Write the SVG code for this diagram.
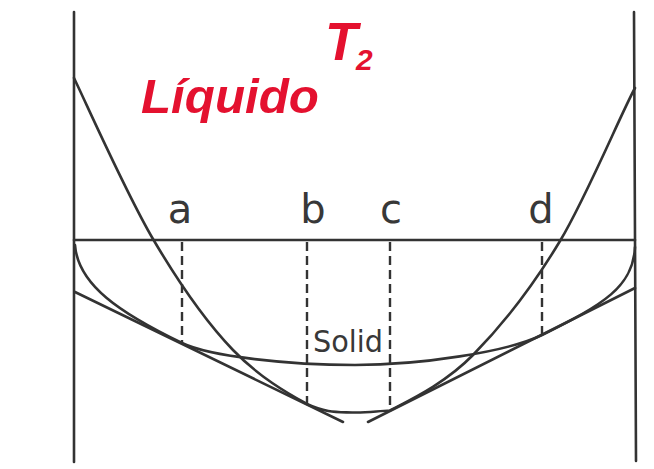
<svg xmlns="http://www.w3.org/2000/svg" width="654" height="469" viewBox="0 0 654 469">
<style>
.ln{fill:none;stroke:#333;stroke-width:2.6;stroke-linecap:round;stroke-linejoin:round}
.dash{fill:none;stroke:#333;stroke-width:2.4;stroke-dasharray:9 5}
.lbl{font-family:"DejaVu Sans",sans-serif;font-size:40px;fill:#383838;text-anchor:middle}
.red{font-family:"Liberation Sans",Arial,sans-serif;font-weight:bold;font-style:italic;fill:#e4112f}
</style>
<rect width="654" height="469" fill="#fff"/>
<g id="axes">
<path class="ln" d="M74,12 L74,462"/>
<path class="ln" d="M634,12 L636,461"/>
<path class="ln" d="M74,240 L635,240"/>
</g>
<g id="liquid-curve">
<path class="ln" d="M74,78 C87,105 126.5,194 153,239 C179.5,284 207,323 233,350 C259,377 287,393 307,404 C326,413 337,412 352,412.5 C367,413 377,411 390,410.5 C412,399 445.5,383 473,355 C500.5,327 533.3,285.5 560,241 C586.7,196.5 621,113.5 635,88"/>
</g>
<g id="solid-curve">
<path class="ln" d="M75,245 C78,285 120,313 182,343 C210,356.6 290,365 355,365 C420,365 507,352 542,335 C604,304 633,287 635,247"/>
</g>
<g id="connectors">
<path class="ln" d="M75,292 L343,422"/>
<path class="ln" d="M635,288 L368,422"/>
<path class="dash" d="M182,242 L182,343"/>
<path class="dash" d="M307,242 L307,404"/>
<path class="dash" d="M390,242 L390,410"/>
<path class="dash" d="M542,242 L542,335"/>
</g>
<g id="labels">
<text class="lbl" x="180" y="223">a</text>
<text class="lbl" x="313" y="223">b</text>
<text class="lbl" x="391" y="223">c</text>
<text class="lbl" x="541" y="223">d</text>
<text x="313" y="352" font-family="DejaVu Sans, sans-serif" font-size="30" fill="#383838" textLength="70" lengthAdjust="spacingAndGlyphs">Solid</text>
</g>
<g id="title">
<text class="red" x="141" y="113" font-size="49" textLength="178" lengthAdjust="spacingAndGlyphs">Líquido</text>
<text class="red" x="325" y="60" font-size="53">T</text>
<text class="red" x="356" y="70" font-size="30">2</text>
</g>
</svg>
